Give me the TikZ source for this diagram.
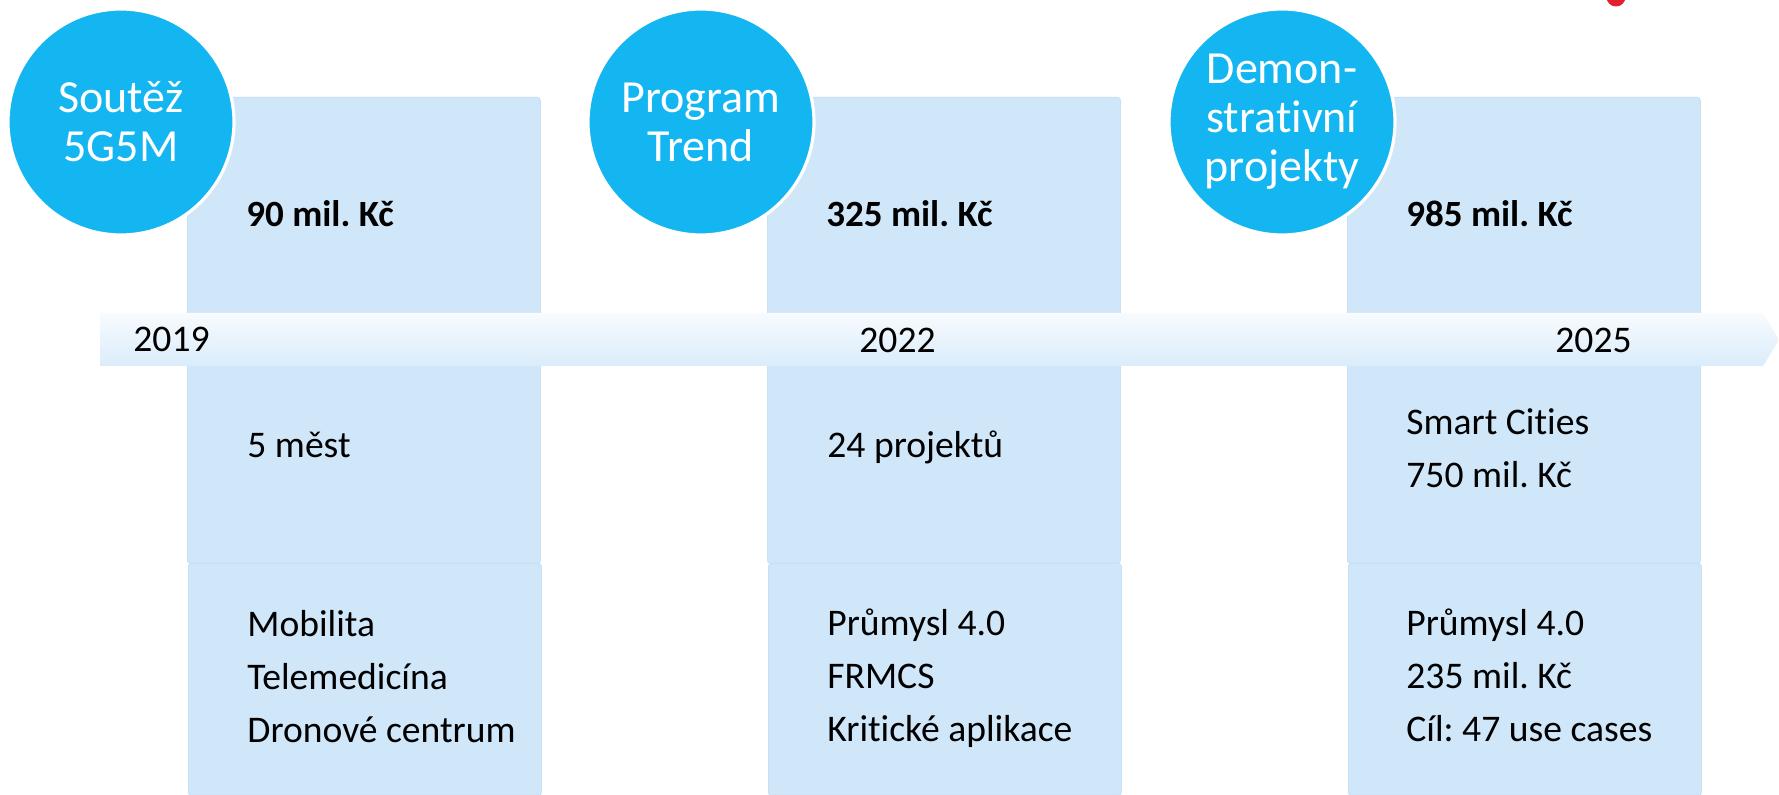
\documentclass[tikz,border=0pt]{standalone}
\usepackage{fontspec}
\setmainfont{Carlito}[RawFeature={-liga;-clig;-calt;-dlig}]
\usetikzlibrary{positioning,calc}
\frenchspacing

\definecolor{panelblue}{HTML}{D0E6F9}
\definecolor{panelline}{HTML}{C8E0F6}
\definecolor{bubblecyan}{HTML}{14B6F1}
\definecolor{arrowtop}{HTML}{F8FBFE}
\definecolor{arrowbot}{HTML}{DAECFB}
\definecolor{dotred}{HTML}{E4202F}

% rows of a detail block, first baseline on the node's base
\newcommand{\infolines}[1]{\begin{tabular}[t]{@{}l@{}}#1\end{tabular}}

\tikzset{
    panel/.style={fill=panelblue, draw=panelline, line width=0.4pt, rounded corners=1.5pt,
        minimum width=176.5pt, inner sep=0pt, anchor=north west},
    bubble/.style={circle, fill=bubblecyan, draw=white, line width=1.6pt, minimum size=113pt,
        inner sep=0pt, text=white, align=center, font=\fontsize{23}{24.5}\selectfont},
    amount/.style={anchor=base west, inner sep=0pt, font=\bfseries\fontsize{18.5}{22}\selectfont},
    info/.style={anchor=base west, inner sep=0pt, font=\fontsize{18.8}{26.5}\selectfont},
    year/.style={anchor=base west, inner sep=0pt, font=\fontsize{18.8}{22}\selectfont}
}

\begin{document}
\begin{tikzpicture}[x=0.5pt, y=-0.5pt]
\useasboundingbox (0,0) rectangle (1779,795);

% columns
\node[panel, minimum height=233pt] (top1) at (187,97) {};
\node[panel, minimum height=116pt] (low1) at (188,563) {};
\node[panel, minimum height=233pt] (top2) at (767,97) {};
\node[panel, minimum height=116pt] (low2) at (768,563) {};
\node[panel, minimum height=233pt] (top3) at (1347,97) {};
\node[panel, minimum height=116pt] (low3) at (1348,563) {};

% timeline
\path[top color=arrowtop, bottom color=arrowbot]
    (100,313) -- (1763,313) -- (1779,340) -- (1763,366) -- (100,366) -- cycle;
\node[year] (y2019) at (133,352) {2019};
\node[year] (y2022) at (859,353) {2022};
\node[year] (y2025) at (1555,353) {2025};

% bubbles
\node[bubble] (soutez) at (121,122) {Soutěž\\5G5M};
\node[bubble] (trend) at (701,122) {Program\\Trend};
\node[bubble] (demo) at (1282,122) {Demon-\\strativní\\projekty};

\fill[dotred] (1616,-3) circle (9.5);

% amounts
\node[amount] (sum1) at (246,227) {90 mil. Kč};
\node[amount] (sum2) at (826,227) {325 mil. Kč};
\node[amount] (sum3) at (1406,227) {985 mil. Kč};

% details
\node[info] (mid1) at (247,458) {5 měst};
\node[info] (mid2) at (827,458) {24 projektů};
\node[info] (mid3) at (1406,435) {\infolines{Smart Cities\\750 mil. Kč}};

\node[info] (bot1) at (247,637) {\infolines{Mobilita\\Telemedicína\\Dronové centrum}};
\node[info] (bot2) at (827,636) {\infolines{Průmysl 4.0\\FRMCS\\Kritické aplikace}};
\node[info] (bot3) at (1406,636) {\infolines{Průmysl 4.0\\235 mil. Kč\\Cíl: 47 use cases}};
\end{tikzpicture}
\end{document}
